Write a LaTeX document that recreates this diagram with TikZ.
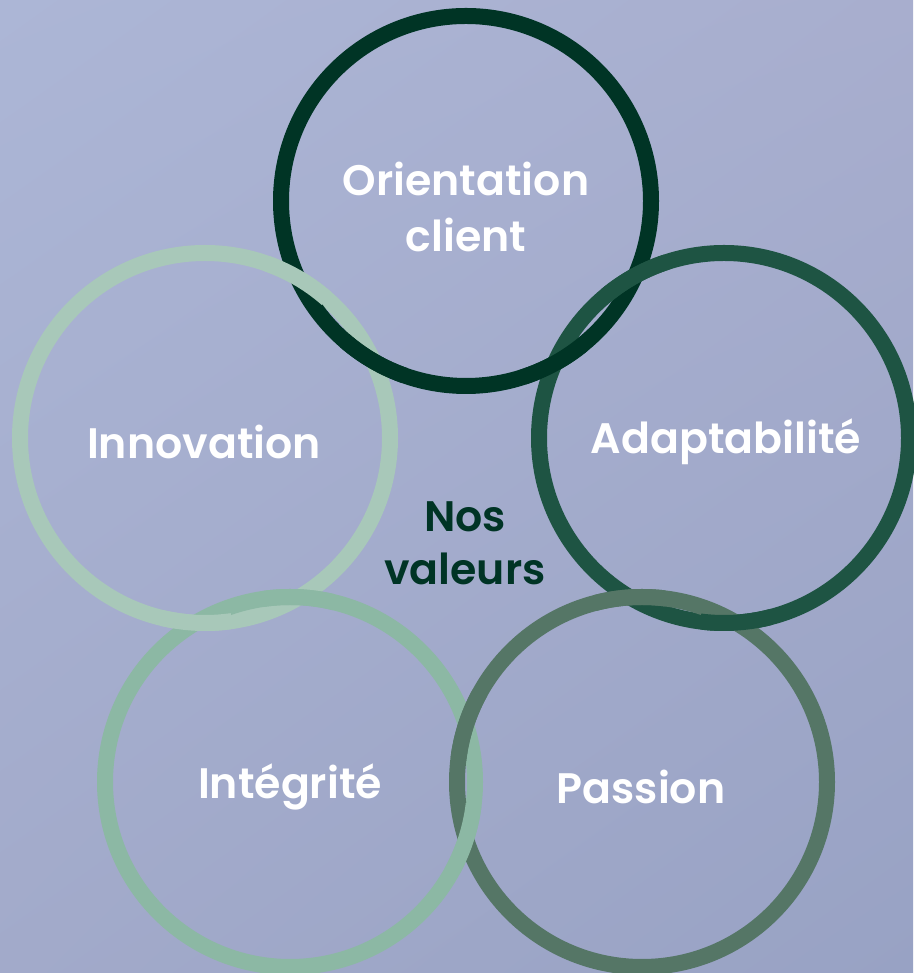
\documentclass[tikz,border=0pt]{standalone}
\usepackage{fontspec}
\setmainfont{Poppins}[BoldFont={Poppins SemiBold}]
\usetikzlibrary{shadings}
\definecolor{cOri}{RGB}{0,52,37}
\definecolor{cAda}{RGB}{30,84,67}
\definecolor{cPas}{RGB}{85,118,102}
\definecolor{cInn}{RGB}{168,200,185}
\definecolor{cInt}{RGB}{140,184,164}
\definecolor{bgUL}{RGB}{172,182,214}
\definecolor{bgUR}{RGB}{168,174,206}
\definecolor{bgLL}{RGB}{162,170,202}
\definecolor{bgLR}{RGB}{152,162,196}
\begin{document}
\begin{tikzpicture}[x=0.75pt,y=0.75pt,
  ring/.style={line width=12pt},
  lbl/.style={text=white,font=\fontsize{32}{42}\selectfont\bfseries,align=center,inner sep=0pt},
  ctr/.style={text=cOri,font=\fontsize{32}{40}\selectfont\bfseries,align=center,inner sep=0pt}]
\useasboundingbox (0,0) rectangle (913,973);
\shade[upper left=bgUL,upper right=bgUR,lower left=bgLL,lower right=bgLR] (0,0) rectangle (913,973);
% centres
\coordinate (O) at (466,772);
\coordinate (I) at (205,535);
\coordinate (A) at (724,535);
\coordinate (G) at (290,191);
\coordinate (P) at (642,191);
\def\R{185}
% full rings
\draw[ring,cInn] (I) circle (\R);
\draw[ring,cInt] (G) circle (\R);
\draw[ring,cOri] (O) circle (\R);
\draw[ring,cAda] (A) circle (\R);
\draw[ring,cPas] (P) circle (\R);
% interlocking crossings
\begin{scope}\clip (298,695) circle (36); \draw[ring,cInn] (I) circle (\R);\end{scope}
\begin{scope}\clip (373,612) circle (36); \draw[ring,cOri] (O) circle (\R);\end{scope}
\begin{scope}\clip (555,610) circle (36); \draw[ring,cOri] (O) circle (\R);\end{scope}
\begin{scope}\clip (635,697) circle (36); \draw[ring,cAda] (A) circle (\R);\end{scope}
\begin{scope}\clip (299,376) circle (36); \draw[ring,cInt] (G) circle (\R);\end{scope}
\begin{scope}\clip (196,350) circle (36); \draw[ring,cInn] (I) circle (\R);\end{scope}
\begin{scope}\clip (466,248) circle (36); \draw[ring,cPas] (P) circle (\R);\end{scope}
\begin{scope}\clip (466,134) circle (36); \draw[ring,cInt] (G) circle (\R);\end{scope}
\begin{scope}\clip (736,350) circle (36); \draw[ring,cAda] (A) circle (\R);\end{scope}
\begin{scope}\clip (630,376) circle (36); \draw[ring,cPas] (P) circle (\R);\end{scope}
% labels
\node[lbl] (tOri) at (466,766) {Orientation\\client};
\node[lbl] (tInn) at (204,531) {Innovation};
\node[lbl] (tAda) at (726,531) {Adaptabilité};
\node[lbl] (tInt) at (290,186) {Intégrité};
\node[lbl] (tPas) at (641,186) {Passion};
\node[ctr] (tNos) at (465,430) {Nos\\valeurs};
\end{tikzpicture}
\end{document}
